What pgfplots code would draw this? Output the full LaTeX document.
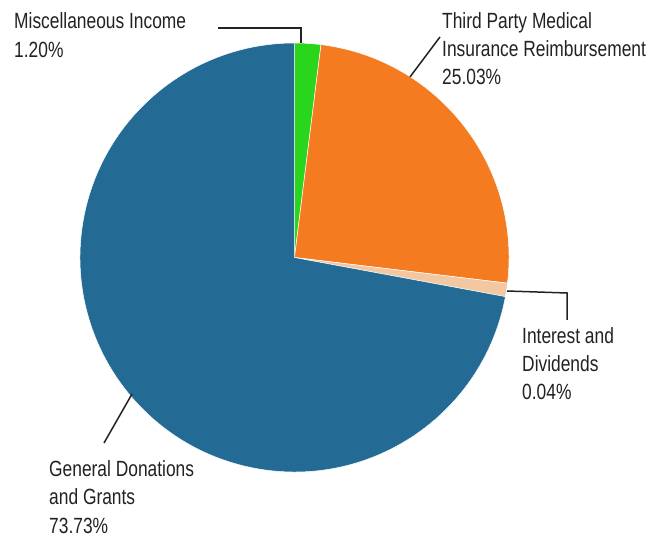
\documentclass[border=0pt]{standalone}
\usepackage{pgfplots}
\pgfplotsset{compat=1.18}
\usepackage{fontspec}
\setmainfont{Liberation Sans}[FakeStretch=0.79]
\definecolor{cblue}{HTML}{236B95}
\definecolor{cgreen}{HTML}{2AD61B}
\definecolor{corange}{HTML}{F47B20}
\definecolor{cpeach}{HTML}{F3C8A0}
\definecolor{cline}{HTML}{222222}
% slice sizes as drawn (percent of the circle)
\def\vMisc{1.97}
\def\vThird{24.94}
\def\vInt{1.01}
\def\vGen{72.08}
\pgfmathsetmacro\aA{90}
\pgfmathsetmacro\aB{\aA-3.6*\vMisc}
\pgfmathsetmacro\aC{\aB-3.6*\vThird}
\pgfmathsetmacro\aD{\aC-3.6*\vInt}
\pgfmathsetmacro\aE{\aD-3.6*\vGen}
\def\cx{294.5}
\def\cy{282.5}
\def\rr{214.5pt}
\begin{document}
\begin{tikzpicture}
\begin{axis}[
  width=662pt, height=540pt, scale only axis,
  xmin=0, xmax=662, ymin=0, ymax=540,
  hide axis, clip=false, enlargelimits=false,
]
\path (axis cs:0,0) rectangle (axis cs:662,540);
\fill[cgreen, draw=white, line width=0.5pt] (axis cs:\cx,\cy) -- ++(\aA:\rr) arc[start angle=\aA, end angle=\aB, radius=\rr] -- cycle;
\fill[corange, draw=white, line width=0.5pt] (axis cs:\cx,\cy) -- ++(\aB:\rr) arc[start angle=\aB, end angle=\aC, radius=\rr] -- cycle;
\fill[cpeach, draw=white, line width=0.5pt] (axis cs:\cx,\cy) -- ++(\aC:\rr) arc[start angle=\aC, end angle=\aD, radius=\rr] -- cycle;
\fill[cblue, draw=white, line width=0.5pt] (axis cs:\cx,\cy) -- ++(\aD:\rr) arc[start angle=\aD, end angle=\aE, radius=\rr] -- cycle;
% leader lines
\draw[cline, line width=1.5pt] (axis cs:218,512) -- (axis cs:301,512) -- (axis cs:301,497);
\draw[cline, line width=1.5pt] (axis cs:410,463) -- (axis cs:440,503);
\draw[cline, line width=1.5pt] (axis cs:507,249) -- (axis cs:567,247) -- (axis cs:567,220);
\draw[cline, line width=1.5pt] (axis cs:132,146) -- (axis cs:104,97);
% labels
\tikzset{lab/.style={anchor=base west, inner sep=0pt, text=cline, font=\fontsize{22}{26}\selectfont}}
\node[lab] at (axis cs:14,511.7) {Miscellaneous Income};
\node[lab] at (axis cs:14,482.5) {1.20\%};
\node[lab] at (axis cs:442,511.7) {Third Party Medical};
\node[lab] at (axis cs:442,483.3) {Insurance Reimbursement};
\node[lab] at (axis cs:442,455.5) {25.03\%};
\node[lab] at (axis cs:522,196) {Interest and};
\node[lab] at (axis cs:522,168) {Dividends};
\node[lab] at (axis cs:522,140) {0.04\%};
\node[lab] at (axis cs:49,63) {General Donations};
\node[lab] at (axis cs:49,35) {and Grants};
\node[lab] at (axis cs:49,6) {73.73\%};
\end{axis}
\end{tikzpicture}
\end{document}
